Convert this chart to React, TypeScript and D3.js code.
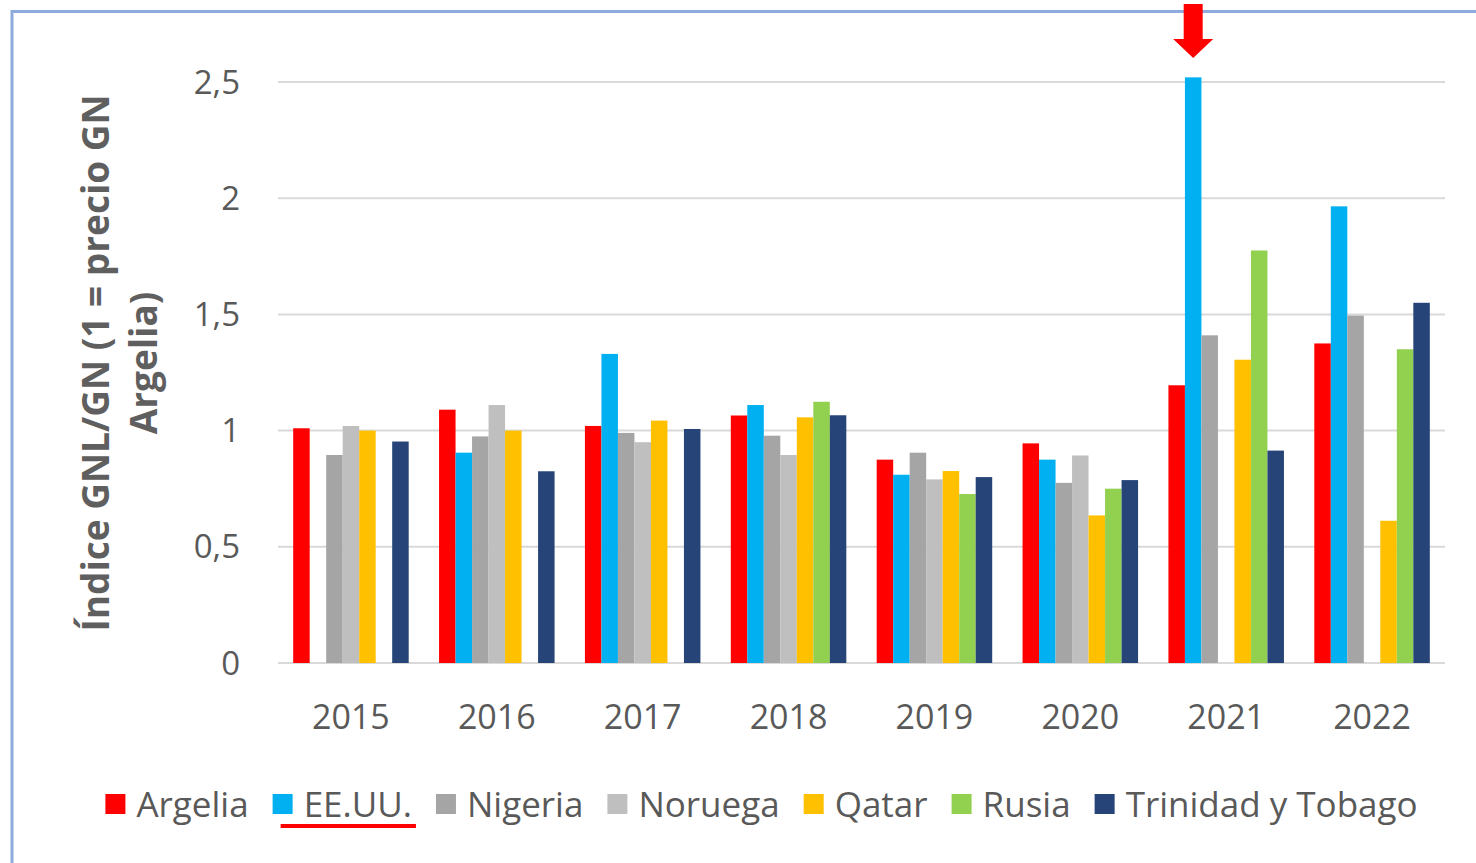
import React, { useEffect, useRef } from "react";
import * as d3 from "d3";

const years = ["2015", "2016", "2017", "2018", "2019", "2020", "2021", "2022"];
const seriesNames = ["Argelia", "EE.UU.", "Nigeria", "Noruega", "Qatar", "Rusia", "Trinidad y Tobago"];
const seriesColors = ["#FF0000", "#00B0F0", "#A5A5A5", "#BFBFBF", "#FFC000", "#92D050", "#264478"];

const argelia = [1.01, 1.09, 1.02, 1.065, 0.875, 0.945, 1.195, 1.375];
const eeuu = [null, 0.905, 1.33, 1.11, 0.81, 0.875, 2.52, 1.965];
const nigeria = [0.895, 0.975, 0.99, 0.978, 0.905, 0.775, 1.41, 1.495];
const noruega = [1.02, 1.11, 0.95, 0.895, 0.79, 0.893, null, null];
const qatar = [1.0, 1.0, 1.043, 1.057, 0.826, 0.635, 1.305, 0.612];
const rusia = [null, null, null, 1.124, 0.727, 0.75, 1.775, 1.35];
const trinidad = [0.953, 0.825, 1.007, 1.066, 0.8, 0.787, 0.914, 1.55];

const seriesValues = [argelia, eeuu, nigeria, noruega, qatar, rusia, trinidad];
const yTicks = [0, 0.5, 1, 1.5, 2, 2.5];
const yTickLabels = ["0", "0,5", "1", "1,5", "2", "2,5"];
const yTitleLines = ["Índice GNL/GN (1 = precio GN", "Argelia)"];
const highlightSeries = "EE.UU.";
const highlightYear = "2021";

const FONT = "'Open Sans', 'Noto Sans', sans-serif";

export default function App() {
  const ref = useRef<SVGSVGElement | null>(null);

  useEffect(() => {
    const svg = d3.select(ref.current);
    svg.selectAll("*").remove();

    const left = 278, right = 1445, top = 82, bottom = 663;

    const x0 = d3.scaleBand<string>().domain(years).range([left, right]).paddingInner(0).paddingOuter(0);
    const x1 = d3.scaleBand<string>().domain(seriesNames).range([0, x0.bandwidth()]).paddingInner(0).paddingOuter(0.92);
    const y = d3.scaleLinear().domain([0, 2.5]).range([bottom, top]);

    svg.append("rect").attr("x", 0).attr("y", 0).attr("width", 1476).attr("height", 863).attr("fill", "#ffffff");

    // frame
    svg.append("path")
      .attr("d", `M12,870 L12,11.5 L1480,11.5`)
      .attr("fill", "none")
      .attr("stroke", "#8FAADC")
      .attr("stroke-width", 3);

    // gridlines
    svg.append("g").selectAll("line").data(yTicks).join("line")
      .attr("x1", left).attr("x2", right)
      .attr("y1", (d) => y(d)).attr("y2", (d) => y(d))
      .attr("stroke", "#D9D9D9").attr("stroke-width", 2);

    // y tick labels
    svg.append("g").selectAll("text").data(yTicks).join("text")
      .attr("x", 240).attr("y", (d) => y(d))
      .attr("dy", "0.35em")
      .attr("text-anchor", "end")
      .attr("font-family", FONT).attr("font-size", 33)
      .attr("fill", "#595959")
      .text((d, i) => yTickLabels[i]);

    // bars
    const g = svg.append("g");
    years.forEach((yr, yi) => {
      seriesNames.forEach((s, si) => {
        const v = seriesValues[si][yi];
        if (v == null) return;
        g.append("rect")
          .attr("x", (x0(yr) as number) + (x1(s) as number))
          .attr("y", y(v))
          .attr("width", x1.bandwidth())
          .attr("height", y(0) - y(v))
          .attr("fill", seriesColors[si]);
      });
    });

    // x labels
    svg.append("g").selectAll("text").data(years).join("text")
      .attr("x", (d) => (x0(d) as number) + x0.bandwidth() / 2)
      .attr("y", 729)
      .attr("text-anchor", "middle")
      .attr("font-family", FONT).attr("font-size", 34)
      .attr("fill", "#595959")
      .text((d) => d);

    // y title
    const titleX = [109, 157];
    yTitleLines.forEach((line, i) => {
      svg.append("text")
        .attr("transform", `translate(${titleX[i]},363) rotate(-90)`)
        .attr("text-anchor", "middle")
        .attr("font-family", FONT).attr("font-size", 37).attr("font-weight", 700)
        .attr("fill", "#5f5f5f")
        .text(line);
    });

    // arrow over highlighted bar
    const ax = (x0(highlightYear) as number) + (x1(highlightSeries) as number) + x1.bandwidth() / 2;
    svg.append("path")
      .attr("d", `M${ax - 9.5},4 L${ax + 9.5},4 L${ax + 9.5},39 L${ax + 20},39 L${ax},58 L${ax - 20},39 L${ax - 9.5},39 Z`)
      .attr("fill", "#FF0000");

    // legend
    const legend = svg.append("g");
    const sq = 20, gapText = 11, gapItem = 24;
    const items = seriesNames.map((s, i) => {
      const t = legend.append("text")
        .attr("y", 817)
        .attr("font-family", FONT).attr("font-size", 35)
        .attr("fill", "#595959")
        .text(s);
      const w = (t.node() as SVGTextElement).getComputedTextLength();
      return { t, w, i, s };
    });
    const total = items.reduce((a, it) => a + sq + gapText + it.w, 0) + gapItem * (items.length - 1);
    let cx = 761.5 - total / 2;
    items.forEach((it) => {
      legend.append("rect").attr("x", cx).attr("y", 794).attr("width", sq).attr("height", sq).attr("fill", seriesColors[it.i]);
      const tx = cx + sq + gapText;
      it.t.attr("x", tx);
      if (it.s === highlightSeries) {
        legend.append("line")
          .attr("x1", tx - 23).attr("x2", tx + it.w + 4)
          .attr("y1", 826).attr("y2", 826)
          .attr("stroke", "#FF0000").attr("stroke-width", 4);
      }
      cx = tx + it.w + gapItem;
    });
  }, []);

  return (
    <svg ref={ref} width={1476} height={863} style={{ position: "absolute", left: 0, top: 0, display: "block" }} />
  );
}
